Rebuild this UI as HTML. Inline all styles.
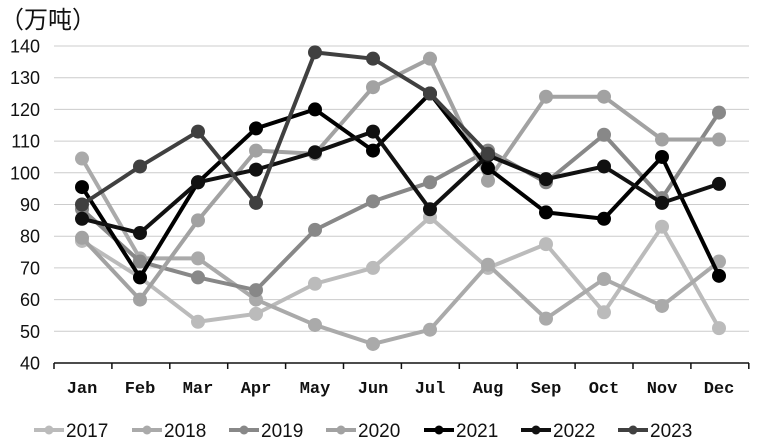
<!DOCTYPE html>
<html><head><meta charset="utf-8"><style>
body{margin:0;background:#fff;}
svg{display:block;font-family:"Liberation Sans","Noto Sans CJK SC",sans-serif;}
</style></head><body>
<svg id="c" width="758" height="444" viewBox="0 0 758 444" xmlns="http://www.w3.org/2000/svg"></svg>
<script>
var s=document.getElementById('c'),h='';
function Y(v){return 363-(v-40)*3.17;}
var X=[82,140,198,256,315,373,430,488,546,604,662,719];
h+='<text x="0" y="28" font-size="24" fill="#111">（万吨）</text>';
for(var v=40;v<=140;v+=10){var y=Y(v);
 if(v>40)h+='<line x1="54" x2="749" y1="'+y+'" y2="'+y+'" stroke="#ccc" stroke-width="1"/>';
 h+='<text x="40" y="'+(y+6.5)+'" font-size="18" text-anchor="end" fill="#111">'+v+'</text>';}
h+='<line x1="54" x2="749" y1="363" y2="363" stroke="#111" stroke-width="1.5"/>';
for(var i=0;i<=12;i++){var x=54+i*57.9;h+='<line x1="'+x+'" x2="'+x+'" y1="363" y2="369" stroke="#111" stroke-width="1.5"/>';}
var M=['Jan','Feb','Mar','Apr','May','Jun','Jul','Aug','Sep','Oct','Nov','Dec'];
M.forEach(function(m,i){h+='<text x="'+X[i]+'" y="393" font-size="17" font-weight="bold" text-anchor="middle" font-family="Liberation Mono,monospace" fill="#111">'+m+'</text>';});
var S=[
['2017','#bbb',[78.5,67,53,55.5,65,70,86,70,77.5,56,83,51]],
['2018','#aaa',[104.5,73,73,60,52,46,50.5,71,54,66.5,58,72]],
['2019','#888',[88.5,72,67,63,82,91,97,107,97,112,92,119]],
['2020','#a2a2a2',[79.5,60,85,107,106,127,136,97.5,124,124,110.5,110.5]],
['2021','#000',[95.5,67,97,114,120,107,125,101.5,87.5,85.5,105,67.5]],
['2022','#111',[85.5,81,97,101,106.5,113,88.5,105.5,98,102,90.5,96.5]],
['2023','#404040',[90,102,113,90.5,138,136,125,106]]];
S.forEach(function(r){var p=r[2].map(function(v,i){return X[i]+','+Y(v);}).join(' ');
 h+='<polyline points="'+p+'" fill="none" stroke="'+r[1]+'" stroke-width="4" stroke-linejoin="round"/>';
 r[2].forEach(function(v,i){h+='<circle cx="'+X[i]+'" cy="'+Y(v)+'" r="7" fill="'+r[1]+'"/>';});});
var LX=[34,132,229,326,424,521,618];
S.forEach(function(r,i){var x=LX[i];
 h+='<line x1="'+x+'" x2="'+(x+30)+'" y1="430" y2="430" stroke="'+r[1]+'" stroke-width="4"/>';
 h+='<circle cx="'+(x+15)+'" cy="430" r="4.5" fill="'+r[1]+'"/>';
 h+='<text x="'+(x+32)+'" y="437" font-size="19" font-family="Liberation Sans Narrow,Liberation Sans,sans-serif" fill="#111">'+r[0]+'</text>';});
s.innerHTML=h;
</script>
</body></html>
